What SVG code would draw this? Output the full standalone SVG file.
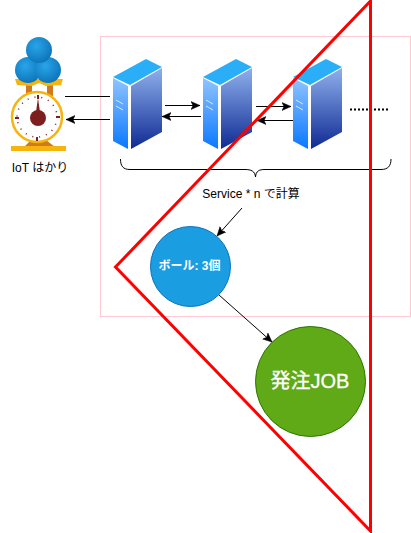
<svg xmlns="http://www.w3.org/2000/svg" width="411" height="533" viewBox="0 0 411 533">
<style>
.l{fill:none;stroke:#000;stroke-width:1}
text{font-family:"Liberation Sans","Noto Sans CJK JP",sans-serif}
</style>
<defs>
<marker id="a" markerWidth="11" markerHeight="10" refX="9" refY="5" orient="auto" markerUnits="userSpaceOnUse"><path d="M0 1L9 5L0 9L2 5Z" fill="#000" stroke="#000" stroke-width=".5"/></marker>
<linearGradient id="f" x1="0" y1="0" x2="0" y2="1"><stop offset="0" stop-color="#8fc4ff"/><stop offset="1" stop-color="#0a78ff"/></linearGradient>
<linearGradient id="s" x1="0" y1="0" x2="0" y2="1"><stop offset="0" stop-color="#8fb0ec"/><stop offset="1" stop-color="#0f2a94"/></linearGradient>
<radialGradient id="b" cx=".4" cy=".35" r=".7"><stop offset="0" stop-color="#2aa5e8"/><stop offset="1" stop-color="#0b72b8"/></radialGradient>
<g id="srv">
<path d="M0 18L33 0L49 8L17 26Z" fill="#2aaef8"/>
<path d="M0 19L15 27V90L0 82Z" fill="url(#f)"/>
<path d="M18 27L49 9V73L18 90Z" fill="url(#s)"/>
<path d="M3 41L10 45M3 47L10 51" stroke="#d8e8ff" stroke-width="1"/>
</g>
</defs>
<rect id="frame" x="100.500" y="36.500" width="310" height="280" fill="none" stroke="#ffc8d2"/>
<g id="iot-scale">
<path d="M26 84H32V96H26ZM47 84H53V96H47ZM31 140H46L55 147H24Z" fill="#cf7a1e"/>
<path d="M15 79H63L61 85L46 86L39 83L32 86L17 85Z" fill="#f6b40e"/>
<rect x="11" y="146" width="55" height="5" fill="#f6b40e"/>
<circle cx="37" cy="117" r="25" fill="#fff" stroke="#f6b40e" stroke-width="2.500"/>
<circle cx="38" cy="118" r="8" fill="#7d1f1f"/>
<path d="M36 112L38 98L40 112Z" fill="#7d1f1f"/>
<path d="M38 95V99M37 137V141M15 118H19M56 117H60" stroke="#7d1f1f" stroke-width="2"/>
<circle cx="37" cy="117" r="20" fill="none" stroke="#7d1f1f" stroke-width="1.500" stroke-dasharray="1 6"/>
<circle cx="28" cy="70" r="13" fill="url(#b)"/>
<circle cx="48" cy="70" r="13" fill="url(#b)"/>
<circle cx="39" cy="50" r="13" fill="url(#b)"/>
<text x="40" y="172" font-size="12" text-anchor="middle" fill="#000">IoT はかり</text>
</g>
<g id="server-1"><use href="#srv" x="113" y="59"/></g>
<g id="server-2"><use href="#srv" x="203" y="59"/></g>
<g id="server-3"><use href="#srv" x="293" y="59"/></g>
<g id="connectors">
<path class="l" d="M65 96.500H110"/>
<path class="l" d="M110 119.500H66" marker-end="url(#a)"/>
<path class="l" d="M165 105.500H200" marker-end="url(#a)"/>
<path class="l" d="M201 116.500H162" marker-end="url(#a)"/>
<path class="l" d="M256 106.500H291" marker-end="url(#a)"/>
<path class="l" d="M293 120.500H257" marker-end="url(#a)"/>
<path d="M350 109.500H390" fill="none" stroke="#000" stroke-width="2" stroke-dasharray="2 2"/>
<path class="l" d="M120.500 159C120.500 166 123 169.500 130 169.500H245C251 169.500 255 171 255.500 177C256 171 259 169.500 265 169.500H381C388 169.500 391 166 391 159"/>
<path class="l" d="M242 208L217 236" marker-end="url(#a)"/>
<path class="l" d="M219 295L272 342" marker-end="url(#a)"/>
</g>
<text x="251" y="198" font-size="12" text-anchor="middle" fill="#000">Service * n で計算</text>
<g id="ball-count">
<circle cx="190.500" cy="266.500" r="40" fill="#1b9de2" stroke="#0b72b8"/>
<text x="189.500" y="270" font-size="12" font-weight="bold" text-anchor="middle" fill="#fff">ボール: 3個</text>
</g>
<g id="order-job">
<circle cx="310.500" cy="381.500" r="55" fill="#60a917" stroke="#2d7600"/>
<text x="310" y="388" font-size="20" text-anchor="middle" fill="#fff" stroke="#fff" stroke-width=".3">発注JOB</text>
</g>
<path id="triangle" d="M370.500 1V531L115.500 267Z" fill="none" stroke="#f00" stroke-width="3"/>
</svg>
